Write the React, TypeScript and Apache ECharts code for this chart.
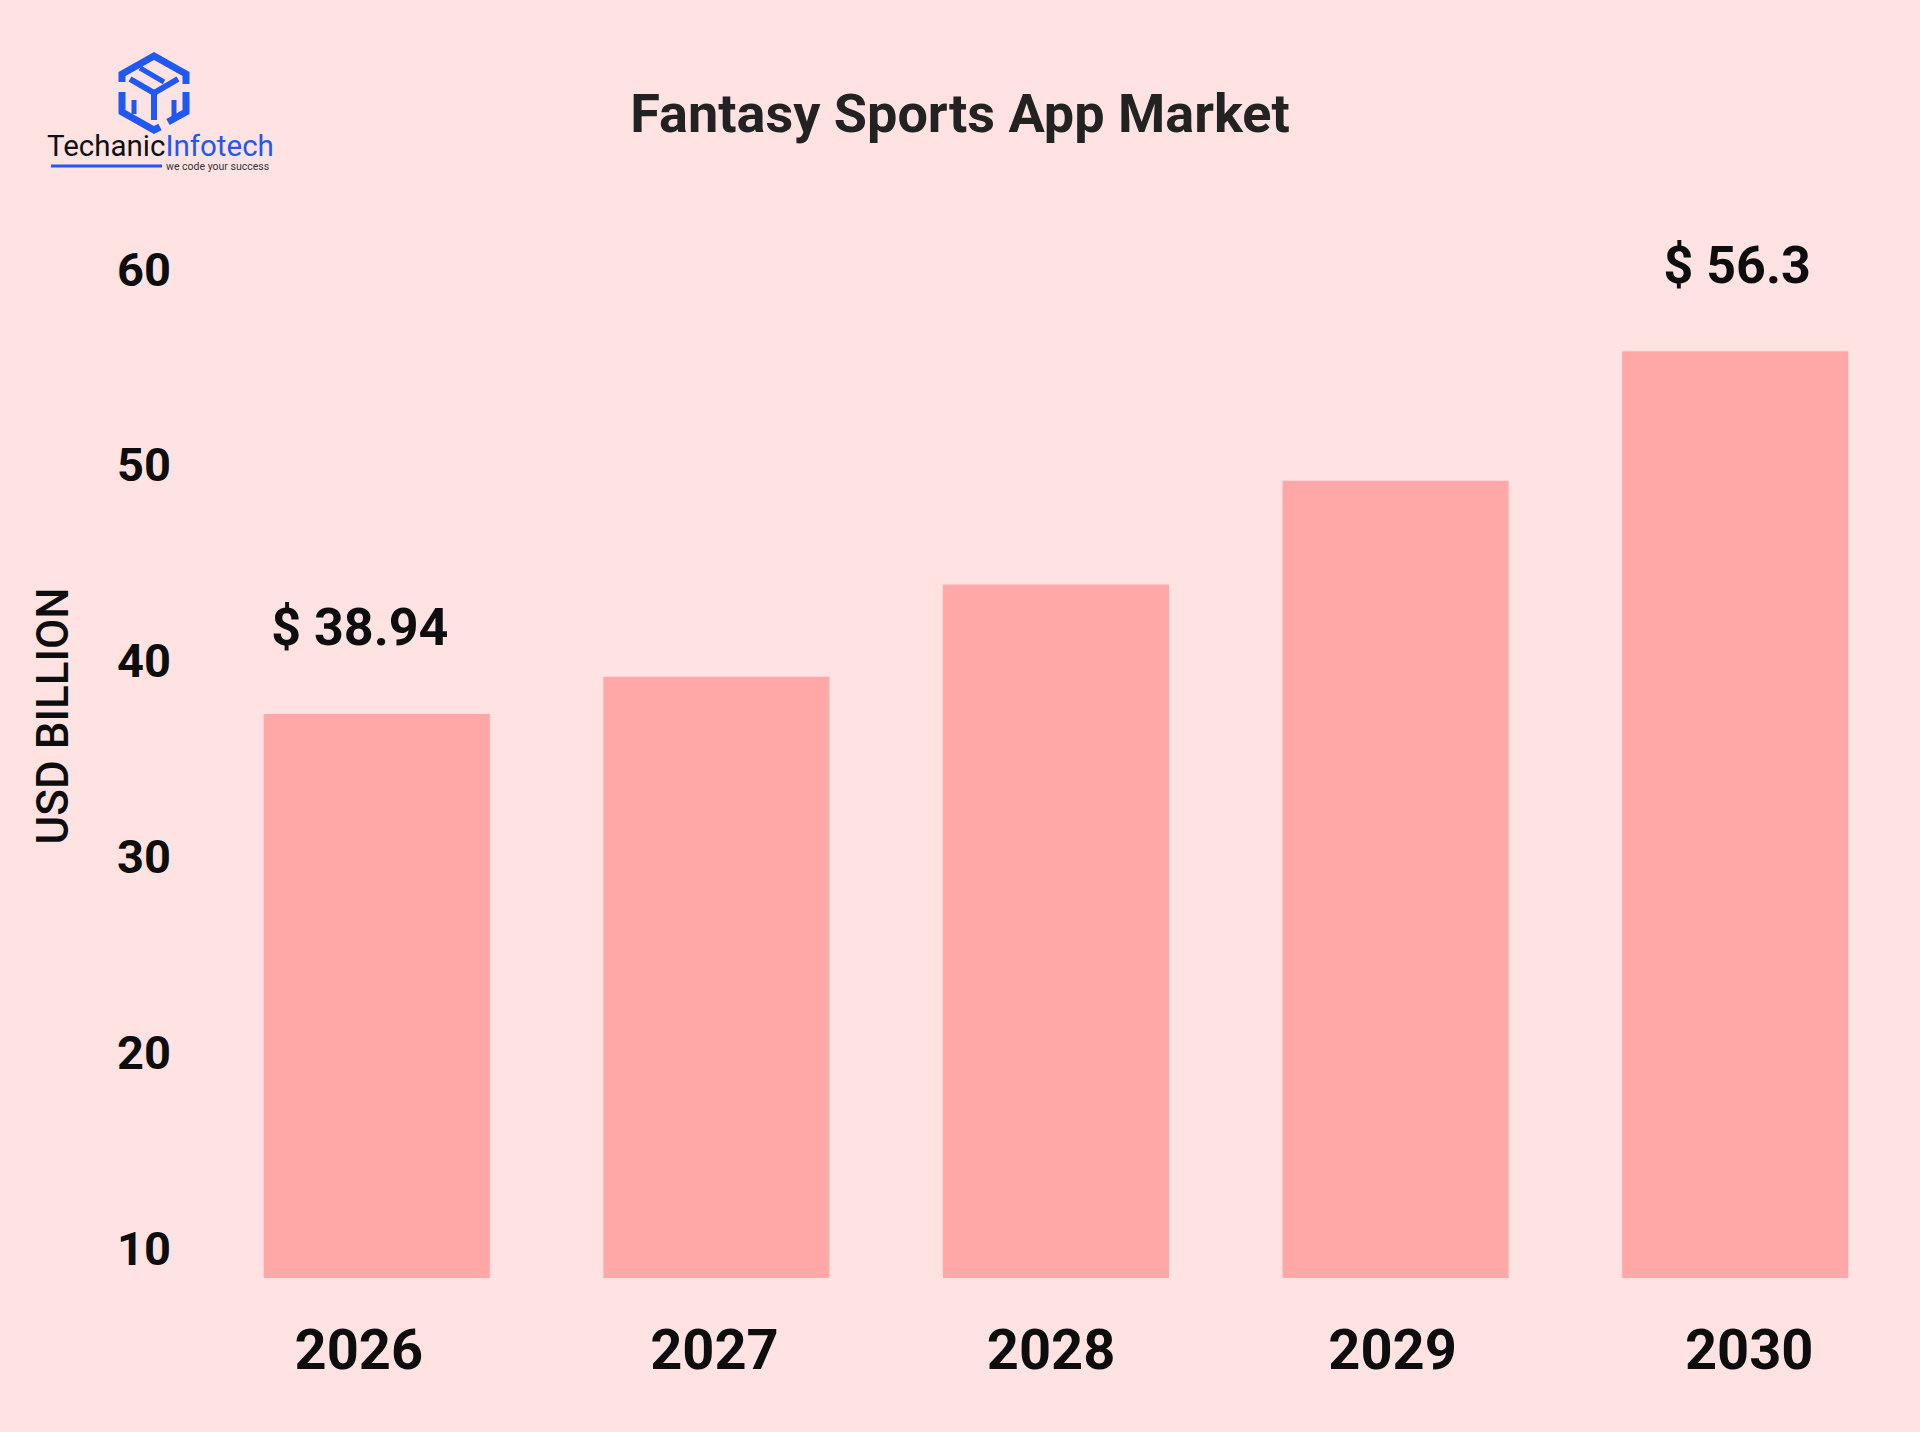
import React, { useEffect, useRef } from "react";
import * as echarts from "echarts";

const categories = ["2026", "2027", "2028", "2029", "2030"];
const barValues = [37.3, 39.2, 43.9, 49.2, 55.8];
const labelValues: (number | null)[] = [38.94, null, null, null, 56.3];
const yTickValues = [10, 20, 30, 40, 50, 60];
const titleText = "Fantasy Sports App Market";
const yAxisTitle = "USD BILLION";

const BG = "#FFE3E3";
const BAR = "#FFA8A7";
const BLUE = "#1F58F2";
const FONT = "Roboto, 'Noto Sans', Arial, sans-serif";

const labelPads = [
  [0, 36, 0, 0],
  [0, 4, 0, 0],
  [0, 10, 0, 0],
  [0, 6, 0, 0],
  [0, 0, 0, 28],
];

export default function App() {
  const ref = useRef<HTMLDivElement>(null);
  useEffect(() => {
    document.body.style.margin = "0";
    if (!ref.current) return;
    const chart = echarts.init(ref.current, null, { renderer: "svg" });

    const xData = categories.map((c, i) => ({ value: c, textStyle: { padding: labelPads[i] } }));

    const seriesData = barValues.map((v, i) => {
      const lv = labelValues[i];
      if (lv == null) return { value: v };
      return {
        value: v,
        label: {
          show: true,
          position: "top",
          distance: 60,
          offset: i === 0 ? [-17, 0] : [2, 0],
          formatter: "$ " + lv,
          fontSize: 52,
          lineHeight: 52,
          fontWeight: "bold",
          fontFamily: FONT,
          color: "#0d0d0d",
        },
      };
    });

    const seg = (points: number[][], w = 7) => ({
      type: "polyline",
      shape: { points },
      style: { stroke: BLUE, lineWidth: w, fill: "none", lineJoin: "miter" },
    });

    chart.setOption({
      animation: false,
      backgroundColor: BG,
      title: {
        text: titleText,
        left: "center",
        top: 86,
        padding: 0,
        textStyle: {
          fontSize: 54,
          fontWeight: "bold",
          fontFamily: FONT,
          color: "#222222",
          lineHeight: 54,
        },
      },
      grid: { left: 207, right: 15, top: 269, bottom: 154, containLabel: false },
      xAxis: {
        type: "category",
        data: xData,
        axisLine: { show: false },
        axisTick: { show: false },
        axisLabel: {
          margin: 44,
          fontSize: 56,
          lineHeight: 56,
          fontWeight: "bold",
          fontFamily: FONT,
          color: "#0d0d0d",
        },
      },
      yAxis: {
        type: "value",
        min: 8.52,
        max: 60,
        splitLine: { show: false },
        axisLine: { show: false },
        axisTick: { show: false },
        axisLabel: {
          customValues: yTickValues,
          margin: 36,
          fontSize: 47,
          fontWeight: "bold",
          fontFamily: FONT,
          color: "#0d0d0d",
        },
      },
      series: [
        {
          type: "bar",
          data: seriesData,
          barCategoryGap: "33.4%",
          itemStyle: { color: BAR },
          label: { show: false },
        },
      ],
      graphic: [
        {
          type: "text",
          x: 53,
          y: 716,
          rotation: Math.PI / 2,
          style: {
            text: yAxisTitle,
            fontSize: 44,
            fontWeight: 500,
            fontFamily: FONT,
            fill: "#0d0d0d",
            align: "center",
            verticalAlign: "middle",
          },
        },
        {
          type: "group",
          children: [
            seg([[122, 82], [122, 74], [154, 56], [186, 74], [186, 84]]),
            seg([[186, 92], [186, 112], [168, 122]]),
            seg([[160, 127], [154, 130], [122, 112], [122, 92]]),
            seg([[130, 79], [154, 93], [154, 120]], 6),
            seg([[154, 93], [178, 79]], 6),
            seg([[140, 68], [164, 82]], 5),
            seg([[134, 100], [134, 114]], 5),
            seg([[174, 100], [174, 116]], 5),
            {
              type: "text",
              x: 47,
              y: 146,
              style: {
                text: "{a|Techanic}{b|Infotech}",
                verticalAlign: "middle",
                rich: {
                  a: { fontSize: 29.5, lineHeight: 26, fontFamily: FONT, fill: "#111111" },
                  b: { fontSize: 29.5, lineHeight: 26, fontFamily: FONT, fill: BLUE },
                },
              },
            },
            {
              type: "line",
              shape: { x1: 51, y1: 166, x2: 162, y2: 166 },
              style: { stroke: BLUE, lineWidth: 3 },
            },
            {
              type: "text",
              x: 166,
              y: 166,
              style: {
                text: "we code your success",
                fontSize: 10.5,
                lineHeight: 10,
                fontFamily: FONT,
                fill: "#333333",
                verticalAlign: "middle",
              },
            },
          ],
        },
      ],
    });
    return () => chart.dispose();
  }, []);
  return <div ref={ref} style={{ width: 1920, height: 1432 }} />;
}
